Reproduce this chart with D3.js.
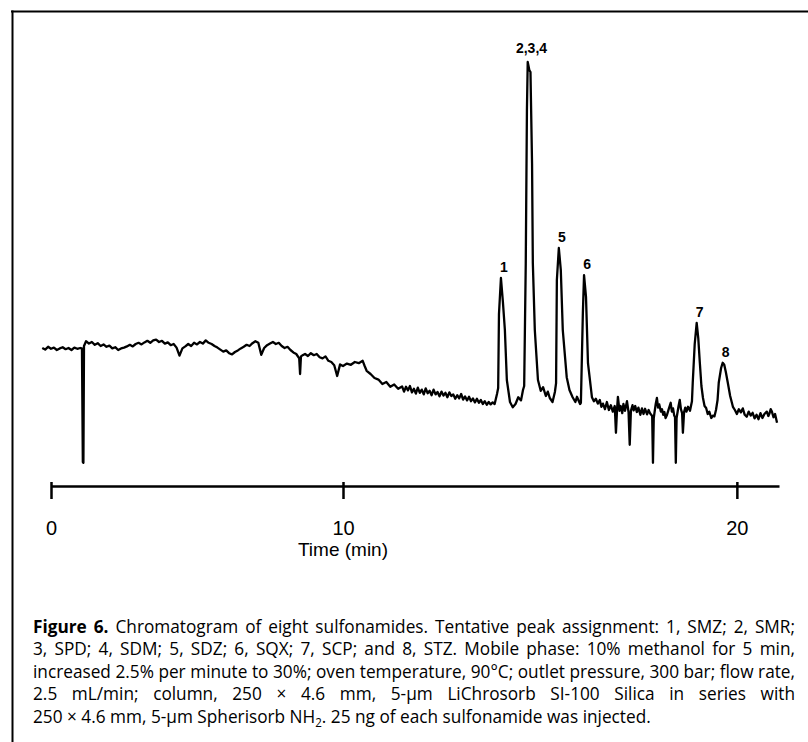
<!DOCTYPE html>
<html>
<head>
    <script src="https://d3js.org/d3.v7.min.js"></script>
    <style>
        body { margin: 0; background: #fff; }
        .peak { font-family: "Liberation Sans", Arial, sans-serif; font-weight: bold; font-size: 14px; fill: #000; }
        .tick text { font-family: "Liberation Sans", Arial, sans-serif; font-size: 20px; fill: #000; }
        .axis-title { font-family: "Liberation Sans", Arial, sans-serif; font-size: 19px; fill: #000; }
        .caption { font-family: "Open Sans", sans-serif; font-size: 18px; fill: #000; }
    </style>
</head>
<body>
    <div id="chart"></div>
    <script>
        // retention time (min) and detector signal (arbitrary units)
        var time = [
            -0.3, -0.2, -0.1, 0.0, 0.1, 0.2, 0.3, 0.4, 0.5, 0.6, 0.7, 0.8, 0.9, 1.0,
            1.06, 1.09, 1.11, 1.13, 1.2, 1.3, 1.4, 1.5, 1.6, 1.7, 1.8, 1.9, 2.0,
            2.1, 2.2, 2.3, 2.4, 2.5, 2.6, 2.7, 2.8, 2.9, 3.0, 3.1, 3.2, 3.3, 3.4,
            3.5, 3.6, 3.7, 3.8, 3.9, 4.0, 4.1, 4.2, 4.3, 4.4, 4.5, 4.6, 4.7, 4.8,
            4.9, 5.0, 5.1, 5.2, 5.3, 5.4, 5.5, 5.6, 5.7, 5.8, 5.9, 6.0, 6.1, 6.2,
            6.3, 6.4, 6.5, 6.6, 6.7, 6.8, 6.9, 7.0, 7.1, 7.2, 7.3, 7.4, 7.5, 7.6,
            7.7, 7.8, 7.9, 8.0, 8.1, 8.2, 8.3, 8.4, 8.5, 8.53, 8.56, 8.6, 8.7, 8.8,
            8.9, 9.0, 9.1, 9.2, 9.3, 9.4, 9.5, 9.6, 9.7, 9.8, 9.9, 10.0, 10.1, 10.2,
            10.3, 10.4, 10.5, 10.55, 10.6, 10.7, 10.8, 10.9, 11.0, 11.1, 11.2, 11.3,
            11.4, 11.5, 11.55, 11.6, 11.65, 11.7, 11.75, 11.8, 11.85, 11.9, 11.95,
            12.0, 12.05, 12.1, 12.15, 12.2, 12.25, 12.3, 12.35, 12.4, 12.45, 12.5,
            12.55, 12.6, 12.65, 12.7, 12.75, 12.8, 12.85, 12.9, 12.95, 13.0, 13.05,
            13.1, 13.15, 13.2, 13.25, 13.3, 13.35, 13.4, 13.45, 13.5, 13.55, 13.6,
            13.65, 13.7, 13.75, 13.8, 13.85, 13.91, 13.94, 13.96, 14.01, 14.06,
            14.11, 14.16, 14.24, 14.31, 14.38, 14.45, 14.52, 14.57, 14.60, 14.64,
            14.67, 14.69, 14.73, 14.76, 14.80, 14.82, 14.87, 14.95, 15.02, 15.08,
            15.15, 15.2, 15.25, 15.32, 15.38, 15.41, 15.43, 15.48, 15.53, 15.58,
            15.68, 15.75, 15.83, 15.9, 15.94, 16.02, 16.04, 16.09, 16.12, 16.17,
            16.22, 16.32, 16.37, 16.42, 16.47, 16.52, 16.56, 16.6, 16.65, 16.7,
            16.75, 16.8, 16.85, 16.9, 16.93, 16.96, 16.98, 17.02, 17.05, 17.09,
            17.12, 17.16, 17.21, 17.25, 17.28, 17.31, 17.35, 17.38, 17.42, 17.46,
            17.5, 17.55, 17.59, 17.63, 17.67, 17.72, 17.76, 17.8, 17.85, 17.87,
            17.89, 17.94, 17.97, 18.0, 18.03, 18.07, 18.1, 18.13, 18.16, 18.19,
            18.22, 18.27, 18.32, 18.35, 18.38, 18.41, 18.43, 18.45, 18.47, 18.52,
            18.55, 18.58, 18.61, 18.63, 18.66, 18.69, 18.72, 18.76, 18.81, 18.86,
            18.88, 18.93, 18.98, 19.02, 19.06, 19.1, 19.14, 19.18, 19.22, 19.26,
            19.3, 19.35, 19.39, 19.43, 19.47, 19.51, 19.54, 19.6, 19.64, 19.68,
            19.72, 19.77, 19.83, 19.9, 19.95, 20.0, 20.05, 20.1, 20.15, 20.2,
            20.25, 20.3, 20.35, 20.4, 20.45, 20.5, 20.55, 20.6, 20.65, 20.7,
            20.76, 20.8, 20.83, 20.86, 20.89, 20.93, 20.97, 21.02
        ];
        var signal = [
            30.5, 30.1, 30.8, 30.3, 30.6, 30.0, 30.4, 30.7, 30.2, 30.5, 30.0, 30.6, 30.3, 30.5,
            30.4, 2.0, 1.8, 31.0, 32.2, 31.6, 32.0, 31.3, 31.7, 31.0, 31.4, 30.8, 31.1,
            30.4, 30.7, 30.0, 30.4, 30.6, 30.9, 31.3, 30.9, 31.5, 31.8, 31.4, 31.9, 32.3, 31.8,
            32.4, 32.6, 32.0, 32.3, 31.6, 31.9, 31.2, 31.5, 30.6, 28.6, 30.4, 30.9, 31.5, 31.0,
            31.8, 31.4, 32.0, 31.6, 32.4, 31.8, 31.5, 31.0, 30.6, 30.1, 29.6, 29.9, 29.2, 28.9,
            29.5, 29.9, 30.4, 30.8, 31.3, 31.0, 31.7, 32.2, 31.8, 28.8, 30.5, 31.2, 31.6, 32.0,
            31.5, 31.8, 31.0, 30.5, 30.8, 30.0, 29.4, 29.0, 27.9, 24.0, 28.4, 28.6, 29.0, 28.5,
            29.2, 28.7, 29.0, 28.2, 27.9, 28.4, 27.3, 27.0, 26.2, 23.5, 26.4, 26.0, 26.6, 26.3,
            27.0, 26.7, 27.3, 26.0, 24.8, 24.0, 23.0, 22.6, 21.5, 22.0, 20.8, 21.4,
            20.3, 20.9, 19.6, 20.8, 19.9, 21.0, 19.4, 20.3, 19.1, 20.6, 19.3,
            20.1, 18.9, 20.4, 19.2, 19.8, 18.7, 20.1, 18.9, 19.5, 18.4, 19.6,
            18.6, 19.3, 18.2, 19.4, 18.5, 18.9, 17.8, 18.7, 17.9, 19.0, 17.6,
            18.4, 17.4, 18.3, 17.2, 17.9, 16.9, 17.8, 16.8, 17.5, 16.5, 17.2,
            16.3, 17.0, 16.4, 16.9, 16.5, 19.0, 20.5, 39.0, 48.0, 42.0,
            35.0, 22.5, 17.0, 15.7, 16.5, 18.2, 17.4, 20.0, 21.0, 51.5,
            90.0, 102.0, 100.0, 99.5, 76.7, 51.7, 35.0, 22.5, 19.8, 20.7,
            18.5, 19.6, 18.0, 17.0, 19.5, 21.7, 47.5, 55.5, 50.0, 35.0,
            23.2, 20.0, 18.2, 17.0, 18.3, 16.5, 16.8, 39.2, 48.7, 43.2,
            26.7, 18.2, 17.2, 17.8, 16.6, 17.5, 15.8, 16.6, 15.2, 17.0,
            15.0, 16.2, 14.6, 16.0, 9.3, 15.5, 18.3, 14.8, 16.0, 14.2,
            16.5, 14.8, 17.2, 14.5, 6.3, 14.8, 16.2, 14.9, 16.0, 14.5,
            15.6, 13.8, 15.4, 14.0, 15.3, 13.9, 15.0, 14.1, 13.5, 1.8,
            13.0, 16.5, 18.0, 15.6, 16.4, 14.6, 15.2, 13.8, 14.5, 13.0,
            13.6, 15.2, 16.8, 14.6, 15.4, 13.6, 13.2, 1.8, 13.0, 16.0,
            17.5, 15.2, 14.2, 9.3, 14.5, 15.6, 14.6, 15.8, 14.8, 17.2,
            21.8, 31.5, 36.8, 33.0, 26.8, 21.0, 18.0, 16.0, 15.5, 14.0,
            14.6, 13.0, 13.6, 13.4, 15.0, 17.5, 21.8, 25.5, 26.8, 26.3,
            24.5, 21.8, 18.5, 15.8, 15.0, 14.0, 15.2, 14.4, 15.4, 13.8,
            13.3, 14.6, 13.6, 14.3, 12.9, 13.8, 12.7, 14.2, 13.0, 14.0,
            14.6, 13.5, 14.2, 15.2, 14.6, 13.2, 14.0, 11.8
        ];

        var peakLabels = ["1", "2,3,4", "5", "6", "7", "8"];
        var peakTimes = [14.01, 14.71, 15.48, 16.12, 18.98, 19.64];
        var peakHeights = [48.0, 102.0, 55.5, 48.7, 36.8, 26.8];

        var tickValues = [0, 10, 20];

        var captionLines = [
            "3, SPD; 4, SDM; 5, SDZ; 6, SQX; 7, SCP; and 8, STZ. Mobile phase: 10% methanol for 5 min,",
            "increased 2.5% per minute to 30%; oven temperature, 90°C; outlet pressure, 300 bar; flow rate,",
            "2.5 mL/min; column, 250 × 4.6 mm, 5-µm LiChrosorb SI-100 Silica in series with"
        ];

        var width = 808, height = 742;

        var svg = d3.select("#chart")
            .append("svg")
            .attr("width", width)
            .attr("height", height);

        // frame (top and left edges of the scanned box)
        svg.append("line")
            .attr("x1", 11).attr("x2", width).attr("y1", 11.5).attr("y2", 11.5)
            .attr("stroke", "#000").attr("stroke-width", 2);
        svg.append("line")
            .attr("x1", 12.5).attr("x2", 12.5).attr("y1", 10.5).attr("y2", height)
            .attr("stroke", "#000").attr("stroke-width", 2);

        // the recorder axis is not evenly spaced, 0-10 is shorter than 10-20
        var x = d3.scaleLinear()
            .domain([0, 10, 21.07])
            .range([51, 343, 779]);

        var y = d3.scaleLinear()
            .domain([0, 100])
            .range([470, 70]);

        var trace = time.map(function (t, i) {
            return [t, signal[i]];
        });

        var line = d3.line()
            .x(function (d) { return x(d[0]); })
            .y(function (d) { return y(d[1]); });

        svg.append("path")
            .datum(trace)
            .attr("d", line)
            .attr("fill", "none")
            .attr("stroke", "#000")
            .attr("stroke-width", 2.3)
            .attr("stroke-linejoin", "round");

        svg.selectAll(".peak")
            .data(peakLabels)
            .enter()
            .append("text")
            .attr("class", "peak")
            .attr("text-anchor", "middle")
            .attr("x", function (d, i) { return x(peakTimes[i]) + 3; })
            .attr("y", function (d, i) { return y(peakHeights[i]) - (i == 1 ? 9 : 6); })
            .text(function (d) { return d; });

        var axis = d3.axisBottom(x)
            .tickValues(tickValues)
            .tickSizeInner(13)
            .tickSizeOuter(0)
            .tickFormat(d3.format("d"));

        var gx = svg.append("g")
            .attr("transform", "translate(0,486)")
            .call(axis);

        gx.select(".domain")
            .attr("stroke", "#000")
            .attr("stroke-width", 2.5);
        gx.selectAll(".tick line")
            .attr("y1", -4)
            .attr("stroke", "#000")
            .attr("stroke-width", 2.5);
        gx.selectAll(".tick text")
            .attr("y", 49)
            .attr("dy", 0);

        svg.append("text")
            .attr("class", "axis-title")
            .attr("x", x(10))
            .attr("y", 556)
            .attr("text-anchor", "middle")
            .text("Time (min)");

        // caption: condensed type, lines 1-4 justified by word spacing
        var capX = 33, capW = 762, capTop = 633, capStep = 22.5;

        var cap = svg.append("g");

        var first = cap.append("text")
            .attr("class", "caption")
            .attr("y", capTop);
        first.append("tspan")
            .attr("font-weight", "bold")
            .text("Figure 6.");
        first.append("tspan")
            .text(" Chromatogram of eight sulfonamides. Tentative peak assignment: 1, SMZ; 2, SMR;");

        cap.selectAll(".caption-mid")
            .data(captionLines)
            .enter()
            .append("text")
            .attr("class", "caption caption-mid")
            .attr("y", function (d, i) { return capTop + capStep * (i + 1); })
            .text(function (d) { return d; });

        var last = cap.append("text")
            .attr("class", "caption")
            .attr("y", capTop + capStep * 4);
        last.append("tspan").text("250 × 4.6 mm, 5-µm Spherisorb NH");
        last.append("tspan").attr("font-size", "12px").attr("dy", 4).text("2");
        last.append("tspan").attr("dy", -4).text(". 25 ng of each sulfonamide was injected.");

        // squeeze glyphs so the widest full line fits, then widen word gaps of the others
        var full = cap.selectAll("text").filter(function () { return this !== last.node(); });
        var widest = d3.max(full.nodes(), function (n) { return n.getComputedTextLength(); });
        var k = capW / widest;
        cap.attr("transform", "translate(" + capX + ",0) scale(" + k + ",1)");
        full.each(function () {
            var w = this.getComputedTextLength();
            var spaces = this.textContent.split(" ").length - 1;
            d3.select(this).attr("word-spacing", (capW / k - w) / spaces);
        });
    </script>
</body>
</html>
